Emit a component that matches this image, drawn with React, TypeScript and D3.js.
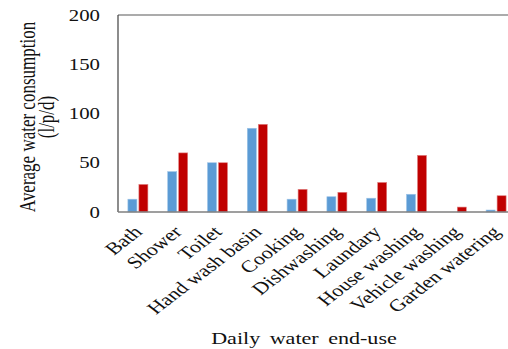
import React from "react";
import * as d3 from "d3";

const categories = ["Bath", "Shower", "Toilet", "Hand wash basin", "Cooking", "Dishwashing", "Laundary", "House washing", "Vehicle washing", "Garden watering"];
const seriesA = [13, 41, 50, 85, 13, 15.5, 14, 18, 0, 2];
const seriesB = [28, 60, 50, 89, 23, 20, 30, 57.5, 5, 16.5];
const yTicks = [0, 50, 100, 150, 200];

const W = 508, H = 349;
const left = 118, top = 15, bottom = 212, right = 516;
const SX = 1.3;
const font = "'Liberation Serif', 'Times New Roman', serif";

export default function App() {
  const x = d3.scaleBand<string>().domain(categories).range([left, right]).paddingInner(0).paddingOuter(0);
  const y = d3.scaleLinear().domain([0, 200]).range([bottom, top]);
  const bw = 9, gap = 2;
  return (
    <svg width={W} height={H} style={{ position: "absolute", left: 0, top: 0 }} fontFamily={font}>
      <rect x={0} y={0} width={W} height={H} fill="#fff" />
      <line x1={left} x2={right} y1={top} y2={top} stroke="#595959" strokeWidth={1.2} />
      <line x1={left} x2={left} y1={top} y2={bottom} stroke="#404040" strokeWidth={1.2} />
      {categories.map((c, i) => {
        const cx = (x(c) as number) + x.bandwidth() / 2;
        return (
          <g key={c}>
            {seriesA[i] > 0 && (
              <rect x={cx - gap / 2 - bw} y={y(seriesA[i])} width={bw} height={bottom - y(seriesA[i])} fill="#5B9BD5" stroke="#9dc3e6" strokeWidth={0.6} />
            )}
            <rect x={cx + gap / 2} y={y(seriesB[i])} width={bw} height={bottom - y(seriesB[i])} fill="#C00000" stroke="#e08080" strokeWidth={0.6} />
            <text
              transform={`translate(${cx + 5.5},${233}) scale(${SX},1) rotate(-45)`}
              textAnchor="end"
              fontSize={17}
              fill="#111"
            >
              {c}
            </text>
          </g>
        );
      })}
      <line x1={left} x2={right} y1={bottom} y2={bottom} stroke="#7f7f7f" strokeWidth={1.6} />
      {yTicks.map((t) => (
        <text key={t} transform={`translate(100,${y(t)}) scale(${SX},1)`} dy="0.35em" textAnchor="end" fontSize={16} fill="#111">
          {t}
        </text>
      ))}
      <text transform={`translate(27,117) scale(${SX},1) rotate(-90)`} textAnchor="middle" dy="0.35em" fontSize={17} fill="#111">
        Average water consumption
      </text>
      <text transform={`translate(46,117) scale(${SX},1) rotate(-90)`} textAnchor="middle" dy="0.35em" fontSize={17} fill="#111">
        (l/p/d)
      </text>
      <text transform={`translate(304,344) scale(${SX},1)`} textAnchor="middle" fontSize={17} fill="#111" wordSpacing={3}>
        Daily water end-use
      </text>
    </svg>
  );
}
